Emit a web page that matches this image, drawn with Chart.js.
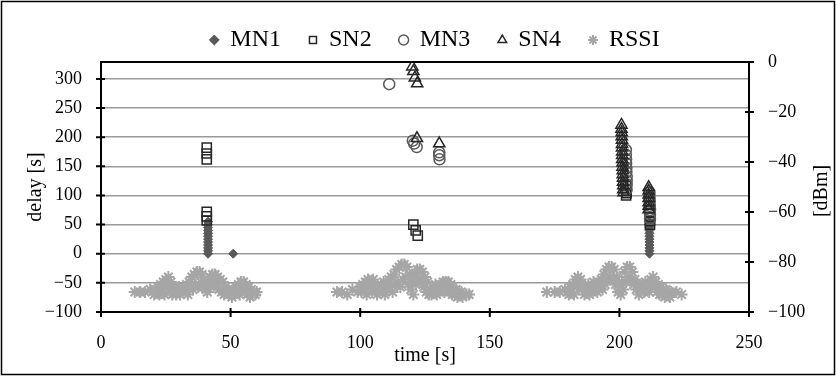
<!DOCTYPE html>
<html>
<head>
<meta charset="utf-8">
<title>delay / RSSI over time</title>
<script src="https://cdn.jsdelivr.net/npm/chart.js@4.4.1/dist/chart.umd.min.js"></script>
<style>
    html, body { margin: 0; padding: 0; background: #fff; }
</style>
</head>
<body>
<canvas id="chart" width="836" height="376"></canvas>
<script>
// delay [s] per node and RSSI [dBm], both against time [s]

// MN1
const mn1Time  = [41.3, 41.3, 41.3, 41.3, 41.3, 41.3, 41.3, 41.3, 41.3, 41.3, 41.3, 41.3, 51,
                  211.6, 211.6, 211.6, 211.6, 211.6, 211.6, 211.6, 211.6, 211.6, 211.6, 211.6, 211.6];
const mn1Delay = [0, 5, 10, 15, 20, 25, 30, 35, 40, 45, 50, 55, 0,
                  0, 5, 10, 15, 20, 25, 30, 35, 40, 45, 50, 55];

// SN2
const sn2Time  = [40.8, 40.8, 40.8, 40.8, 40.8, 40.8,
                  120.5, 121.4, 122.2,
                  202.5, 202.6, 202.8, 202.6,
                  211.8, 211.8, 211.8, 211.8];
const sn2Delay = [182, 172, 162, 72, 64, 57,
                  50, 40, 31,
                  118, 110, 104, 100,
                  70, 63, 56, 50];

// MN3
const mn3Time  = [111.2, 120.3, 120.8, 121.8, 130.5, 130.5, 130.6,
                  202.5, 202.5, 202.6, 202.6, 202.7, 202.7, 202.8, 202.8, 202.8, 202.8,
                  211.6, 211.6, 211.7, 211.7, 211.8, 211.8, 211.8];
const mn3Delay = [291, 194, 189, 183, 174, 169, 162,
                  178, 170, 162, 155, 147, 140, 132, 125, 118, 110,
                  105, 97, 90, 82, 75, 67, 60];

// SN4
const sn4Time  = [120.1, 120.5, 121.1, 122.0, 121.9, 130.5,
                  200.8, 200.8, 200.9, 200.9, 201.0, 201.0, 201.0, 201.1, 201.1, 201.1,
                  201.2, 201.2, 201.3, 201.3, 201.4, 201.4, 201.5, 201.5, 201.6,
                  211.3, 211.3, 211.3, 211.3, 211.3, 211.3, 211.3];
const sn4Delay = [321, 313, 302, 292, 198, 189,
                  221, 214, 208, 201, 195, 188, 182, 175, 169, 162,
                  156, 149, 143, 136, 130, 123, 117, 110, 105,
                  114, 108, 101, 95, 88, 82, 76];

// RSSI, whole-second samples
const rssiTime  = [13, 15, 17, 19, 21, 22, 23, 24, 25, 26, 27, 28, 29, 30, 31, 32, 33, 34, 35, 36,
                   37, 38, 39, 40, 41, 42, 43, 44, 45, 46, 47, 48, 49, 50, 51, 52, 53, 54, 55, 56,
                   57, 58, 59, 60,
                   91, 93, 95, 97, 99, 100, 101, 102, 103, 104, 105, 106, 107, 108, 109, 110, 111,
                   112, 113, 114, 115, 116, 117, 118, 119, 120, 121, 122, 123, 124, 125, 126, 127,
                   128, 129, 130, 131, 132, 133, 134, 135, 136, 137, 138, 139, 141, 142,
                   172, 175, 177, 179, 180, 181, 182, 183, 184, 185, 186, 187, 188, 189, 190, 191,
                   192, 193, 194, 195, 196, 197, 198, 199, 200, 201, 202, 203, 204, 205, 206, 207,
                   208, 209, 210, 211, 212, 213, 214, 215, 216, 217, 218, 219, 220, 222, 224];
const rssiValue = [-92, -92, -92, -91, -91, -90, -89, -88, -87, -86, -88, -90, -93, -90, -91, -90, -89, -88, -86, -85,
                   -84, -84, -85, -88, -92, -86, -85, -85, -86, -87, -88, -90, -91, -92, -91, -90, -89, -88, -88, -89,
                   -90, -91, -92, -92,
                   -92, -92, -93, -91, -92, -90, -89, -88, -87, -89, -87, -90, -91, -89, -88, -89, -87,
                   -86, -85, -83, -82, -81, -81, -82, -85, -88, -85, -83, -83, -84, -86, -88, -91,
                   -90, -89, -90, -89, -88, -88, -88, -89, -91, -91, -92, -92, -93, -93,
                   -92, -92, -92, -91, -92, -90, -89, -87, -86, -87, -90, -91, -89, -90, -88, -89,
                   -88, -87, -85, -83, -82, -82, -83, -86, -91, -88, -84, -82, -82, -84, -87, -89,
                   -91, -89, -88, -89, -87, -86, -88, -89, -90, -91, -91, -92, -92, -92, -93];

// RSSI, half-second samples
const rssiHalfTime  = [20.5, 21.5, 22.5, 23.5, 24.5, 25.5, 26.5, 27.5, 28.5, 29.5, 30.5, 31.5, 32.5, 33.5,
                       34.5, 35.5, 36.5, 37.5, 38.5, 39.5, 40.5, 41.5, 42.5, 43.5, 44.5, 45.5, 46.5, 47.5,
                       48.5, 49.5, 50.5, 51.5, 52.5, 53.5, 54.5, 55.5, 56.5, 57.5, 58.5, 59.5,
                       100.5, 101.5, 102.5, 103.5, 104.5, 105.5, 106.5, 107.5, 108.5, 109.5, 110.5, 111.5,
                       112.5, 113.5, 114.5, 115.5, 116.5, 117.5, 118.5, 119.5, 120.5, 121.5, 122.5, 123.5,
                       124.5, 125.5, 126.5, 127.5, 128.5, 129.5, 130.5, 131.5, 132.5, 133.5, 134.5, 135.5,
                       136.5, 137.5, 138.5, 139.5,
                       180.5, 181.5, 182.5, 183.5, 184.5, 185.5, 186.5, 187.5, 188.5, 189.5, 190.5, 191.5,
                       192.5, 193.5, 194.5, 195.5, 196.5, 197.5, 198.5, 199.5, 200.5, 201.5, 202.5, 203.5,
                       204.5, 205.5, 206.5, 207.5, 208.5, 209.5, 210.5, 211.5, 212.5, 213.5, 214.5, 215.5,
                       216.5, 217.5, 218.5, 219.5];
const rssiHalfValue = [-93, -92, -93, -91, -93, -90, -92, -93, -92, -91, -93, -92, -91, -93,
                       -90, -91, -89, -90, -88, -90, -91, -89, -88, -90, -89, -91, -92, -93,
                       -92, -93, -94, -93, -92, -93, -91, -92, -93, -94, -93, -93,
                       -92, -91, -93, -90, -92, -91, -93, -92, -91, -93, -91, -90,
                       -92, -89, -88, -90, -87, -86, -89, -91, -93, -89, -87, -88,
                       -90, -92, -93, -93, -92, -93, -92, -91, -92, -91, -92, -93,
                       -93, -94, -93, -94,
                       -93, -92, -93, -90, -89, -91, -93, -92, -93, -92, -91, -92,
                       -90, -91, -89, -87, -86, -87, -89, -92, -93, -91, -88, -86,
                       -87, -89, -91, -93, -92, -92, -91, -92, -90, -90, -92, -93,
                       -93, -94, -93, -94];

// axis ticks
const timeTicks  = [0, 50, 100, 150, 200, 250];
const delayTicks = [-100, -50, 0, 50, 100, 150, 200, 250, 300];
const rssiTicks  = [-100, -80, -60, -40, -20, 0];

const LABELS = ['MN1', 'SN2', 'MN3', 'SN4', 'RSSI'];
const AXIS_TITLES = { x: 'time [s]', y: 'delay [s]', y2: '[dBm]' };

const FONT = "'Liberation Serif', 'Times New Roman', serif";
Chart.defaults.font.family = FONT;
Chart.defaults.color = '#000';

const toPoints = (xs, ys) => xs.map((x, i) => ({ x: x, y: ys[i] }));
const minus = v => String(v).replace('-', '\u2212');

// plot frame, crossing tick marks, right axis title, outer border
const framePlugin = {
    id: 'frame',
    afterDraw(chart) {
        const { ctx, chartArea: a, scales } = chart;
        ctx.save();
        ctx.strokeStyle = '#000';
        ctx.lineWidth = 2;
        ctx.beginPath();
        ctx.moveTo(a.left, a.top);
        ctx.lineTo(a.right, a.top);
        delayTicks.forEach(v => {
            const py = scales.y.getPixelForValue(v);
            ctx.moveTo(a.left - 5, py);
            ctx.lineTo(a.left + 4, py);
        });
        rssiTicks.forEach(v => {
            const py = scales.y2.getPixelForValue(v);
            ctx.moveTo(a.right - 4, py);
            ctx.lineTo(a.right + 5, py);
        });
        timeTicks.forEach(v => {
            const px = scales.x.getPixelForValue(v);
            ctx.moveTo(px, a.bottom - 4);
            ctx.lineTo(px, a.bottom + 5);
        });
        ctx.stroke();

        ctx.lineWidth = 1.5;
        ctx.strokeRect(1.5, 1.5, chart.width - 3, chart.height - 3);

        ctx.fillStyle = '#000';
        ctx.font = '20px ' + FONT;
        ctx.textAlign = 'center';
        ctx.textBaseline = 'middle';
        ctx.translate(822, (a.top + a.bottom) / 2 + 4);
        ctx.rotate(-Math.PI / 2);
        ctx.fillText(AXIS_TITLES.y2, 0, 0);
        ctx.restore();
    }
};

const rssiPoints = toPoints(rssiTime, rssiValue).concat(toPoints(rssiHalfTime, rssiHalfValue));

new Chart(document.getElementById('chart'), {
    type: 'scatter',
    data: {
        datasets: [
            {
                label: LABELS[0], data: toPoints(mn1Time, mn1Delay), yAxisID: 'y', order: 4,
                pointStyle: 'rectRot', pointRadius: 4.5,
                backgroundColor: '#595959', borderColor: '#595959', borderWidth: 1
            },
            {
                label: LABELS[1], data: toPoints(sn2Time, sn2Delay), yAxisID: 'y', order: 3,
                pointStyle: 'rect', pointRadius: 6.5,
                backgroundColor: 'rgba(0,0,0,0)', borderColor: '#262626', borderWidth: 1.5
            },
            {
                label: LABELS[2], data: toPoints(mn3Time, mn3Delay), yAxisID: 'y', order: 2,
                pointStyle: 'circle', pointRadius: 5.5,
                backgroundColor: 'rgba(0,0,0,0)', borderColor: '#595959', borderWidth: 1.5
            },
            {
                label: LABELS[3], data: toPoints(sn4Time, sn4Delay), yAxisID: 'y', order: 1,
                pointStyle: 'triangle', pointRadius: 6.5,
                backgroundColor: 'rgba(0,0,0,0)', borderColor: '#262626', borderWidth: 1.5
            },
            {
                label: LABELS[4], data: rssiPoints, yAxisID: 'y2', order: 5,
                pointStyle: 'star', pointRadius: 6,
                backgroundColor: '#a6a6a6', borderColor: '#a6a6a6', borderWidth: 2
            }
        ]
    },
    options: {
        responsive: false,
        animation: false,
        devicePixelRatio: 1,
        layout: { padding: { left: 34, right: 0, top: 0, bottom: 0 } },
        plugins: {
            tooltip: { enabled: false },
            legend: {
                position: 'top',
                labels: {
                    usePointStyle: true,
                    boxWidth: 8,
                    boxHeight: 7,
                    padding: 28,
                    font: { size: 24 },
                    sort: (a, b) => a.datasetIndex - b.datasetIndex
                }
            }
        },
        scales: {
            x: {
                type: 'linear',
                min: 0, max: 250,
                afterFit: s => { s.height = 64; },
                afterBuildTicks: s => { s.ticks = timeTicks.map(v => ({ value: v })); },
                grid: { display: true, drawOnChartArea: false, drawTicks: false },
                border: { color: '#000', width: 2 },
                ticks: { font: { size: 18 }, padding: 20, maxRotation: 0, autoSkip: false },
                title: { display: true, text: AXIS_TITLES.x, font: { size: 20 }, padding: { top: 0, bottom: 8 } }
            },
            y: {
                position: 'left',
                min: -100, max: 329,
                afterFit: s => { s.width = 67; },
                afterBuildTicks: s => { s.ticks = delayTicks.map(v => ({ value: v })); },
                grid: { color: '#9a9a9a', lineWidth: 1.5, drawTicks: false },
                border: { color: '#000', width: 2 },
                ticks: { font: { size: 18 }, padding: 19, autoSkip: false, callback: minus },
                title: { display: true, text: AXIS_TITLES.y, font: { size: 20 }, padding: { top: -10, bottom: 0 } }
            },
            y2: {
                position: 'right',
                min: -100, max: 0,
                afterFit: s => { s.width = 87; },
                afterBuildTicks: s => { s.ticks = rssiTicks.map(v => ({ value: v })); },
                grid: { display: true, drawOnChartArea: false, drawTicks: false },
                border: { color: '#000', width: 2 },
                ticks: { font: { size: 18 }, padding: 19, autoSkip: false, callback: minus }
            }
        }
    },
    plugins: [framePlugin]
});
</script>
</body>
</html>
